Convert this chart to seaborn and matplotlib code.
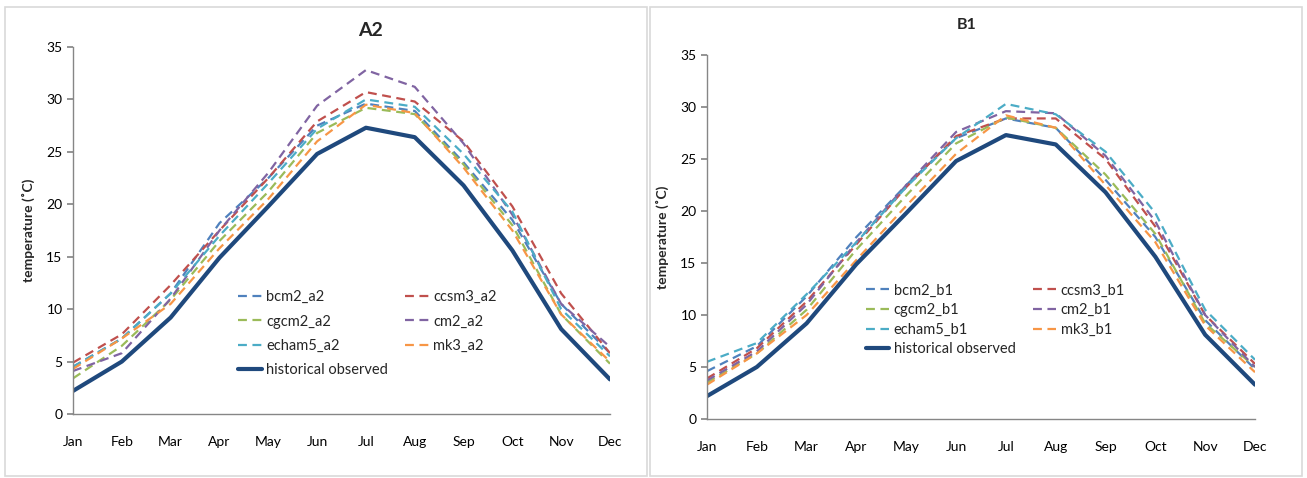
import numpy as np
import pandas as pd
import matplotlib
matplotlib.use("Agg")
import matplotlib.pyplot as plt
from matplotlib.patches import Rectangle
import seaborn as sns

months = ["Jan", "Feb", "Mar", "Apr", "May", "Jun", "Jul", "Aug", "Sep", "Oct", "Nov", "Dec"]

observed = [2.2, 5.0, 9.2, 14.9, 19.8, 24.8, 27.3, 26.4, 21.8, 15.6, 8.1, 3.3]

bcm2_a2 = [4.5, 7.2, 11.5, 18.2, 22.5, 27.5, 29.6, 28.9, 24.0, 18.5, 10.5, 5.8]
ccsm3_a2 = [4.9, 7.6, 12.3, 17.5, 22.5, 27.9, 30.7, 29.8, 26.0, 19.8, 11.5, 5.8]
cgcm2_a2 = [3.4, 6.5, 10.9, 16.5, 21.2, 26.8, 29.2, 28.6, 23.8, 18.0, 9.5, 4.8]
cm2_a2 = [4.1, 5.8, 11.0, 17.5, 23.0, 29.4, 32.8, 31.2, 25.8, 19.0, 10.5, 6.4]
echam5_a2 = [4.5, 7.2, 11.5, 17.0, 22.0, 27.2, 30.0, 29.3, 24.8, 19.3, 10.0, 5.5]
mk3_a2 = [4.3, 7.2, 10.5, 15.8, 20.5, 26.0, 29.5, 28.7, 23.5, 17.5, 9.5, 5.0]

bcm2_b1 = [4.6, 7.0, 11.8, 17.5, 22.5, 27.0, 28.9, 28.0, 23.0, 17.5, 9.5, 4.8]
ccsm3_b1 = [3.9, 6.8, 11.3, 16.8, 22.3, 27.2, 28.9, 28.9, 25.0, 18.5, 10.0, 5.3]
cgcm2_b1 = [3.5, 6.3, 10.5, 16.3, 21.5, 26.5, 29.0, 28.0, 23.5, 17.8, 9.2, 5.0]
cm2_b1 = [3.7, 6.5, 11.0, 17.0, 22.5, 27.6, 29.6, 29.4, 25.3, 19.0, 10.0, 5.0]
echam5_b1 = [5.5, 7.3, 12.0, 17.0, 22.3, 27.0, 30.3, 29.3, 25.7, 19.8, 10.5, 5.7]
mk3_b1 = [3.3, 6.3, 10.0, 15.3, 20.5, 25.5, 29.2, 28.0, 22.5, 17.0, 9.0, 4.5]

model_colors = ["#4F81BD", "#C0504D", "#9BBB59", "#8064A2", "#4BACC6", "#F79646"]
obs_color = "#1F497D"

sns.set_theme(style="white")
plt.rcParams["font.family"] = ["Lato", "DejaVu Sans"]

fig = plt.figure(figsize=(13.07, 4.78), dpi=100)

# panel frames
for x0, x1 in [(5, 647), (650, 1302)]:
    fig.patches.append(Rectangle((x0 / 1307, 2 / 478), (x1 - x0) / 1307, 469 / 478,
                                 transform=fig.transFigure, fill=False,
                                 edgecolor="#D9D9D9", linewidth=1.2))

panels = [
    dict(title="A2", tsize=14, ty=30,
         rect=[73 / 1307, 1 - 414 / 478, 537 / 1307, 367 / 478],
         series=[("bcm2_a2", bcm2_a2), ("ccsm3_a2", ccsm3_a2), ("cgcm2_a2", cgcm2_a2),
                 ("cm2_a2", cm2_a2), ("echam5_a2", echam5_a2), ("mk3_a2", mk3_a2)],
         leg=(0.308, 0.337), lspace=0.7, tx=370),
    dict(title="B1", tsize=11.5, ty=25,
         rect=[707 / 1307, 1 - 419 / 478, 548 / 1307, 364 / 478],
         series=[("bcm2_b1", bcm2_b1), ("ccsm3_b1", ccsm3_b1), ("cgcm2_b1", cgcm2_b1),
                 ("cm2_b1", cm2_b1), ("echam5_b1", echam5_b1), ("mk3_b1", mk3_b1)],
         leg=(0.29, 0.372), lspace=0.38, tx=967),
]

for p in panels:
    ax = fig.add_axes(p["rect"])
    for (name, vals), col in zip(p["series"], model_colors):
        df = pd.DataFrame({"x": np.arange(12), "y": vals})
        sns.lineplot(data=df, x="x", y="y", ax=ax, color=col, linewidth=1.6,
                     linestyle=(0, (4, 2.5)), label=name)
    df = pd.DataFrame({"x": np.arange(12), "y": observed})
    sns.lineplot(data=df, x="x", y="y", ax=ax, color=obs_color, linewidth=3.0,
                 label="historical observed")
    h, l = ax.get_legend_handles_labels()
    order = [0, 2, 4, 6, 1, 3, 5]
    ax.legend([h[i] for i in order], [l[i] for i in order], ncol=2,
              loc="upper left", bbox_to_anchor=p["leg"], frameon=False,
              borderpad=0, borderaxespad=0,
              fontsize=10.5, handlelength=1.6, handletextpad=0.3,
              columnspacing=1.2, labelspacing=p["lspace"])
    ax.set_xlim(0, 11)
    ax.set_ylim(0, 35)
    ax.set_xticks(np.arange(12))
    ax.set_xticklabels(months)
    ax.set_yticks(np.arange(0, 36, 5))
    ax.tick_params(axis="both", labelsize=10, colors="#000000", length=4,
                   direction="out", bottom=False, left=True)
    ax.tick_params(axis="y", color="#868686")
    ax.tick_params(axis="x", pad=12)
    for s in ["top", "right"]:
        ax.spines[s].set_visible(False)
    for s in ["left", "bottom"]:
        ax.spines[s].set_color("#868686")
        ax.spines[s].set_linewidth(1.0)
    ax.set_xlabel("")
    ax.set_ylabel("temperature (˚C)", fontsize=10, fontweight="bold", labelpad=8)
    fig.text(p["tx"] / 1307, 1 - p["ty"] / 478, p["title"], ha="center", va="center",
             fontsize=p["tsize"], fontweight="bold")

fig.savefig("out.png", dpi=100, facecolor="white")
